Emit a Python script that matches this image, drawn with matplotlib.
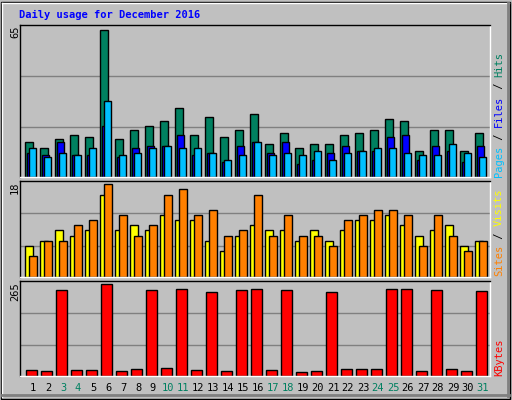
import matplotlib
matplotlib.use('Agg')
from matplotlib import pyplot as plt
from matplotlib.patches import Rectangle
from matplotlib.lines import Line2D

days = list(range(1, 32))
weekend_days = [3, 4, 10, 11, 17, 18, 24, 25, 31]

hits = [15.2, 12.5, 16.5, 18.3, 17.4, 65, 16.5, 20.5, 22.2, 24.4, 30.2, 18.3, 26.2, 17.4, 20.5, 27.5,
        14.3, 19.1, 12.5, 14.3, 14.3, 18.3, 19.1, 20.5, 25.3, 24.4, 11.2, 20.5, 20.5, 11.2, 19.1]
files = [10.3, 9.4, 15.2, 9.4, 9.4, 22.2, 8.5, 12.5, 13.4, 13.4, 18.3, 9.4, 10.3, 6.3, 13.4, 15.2,
         10.3, 15.2, 5.4, 7.2, 10.3, 13.4, 11.2, 11.2, 17.4, 18.3, 7.2, 13.4, 11.2, 6.3, 13.4]
pages = [12.5, 8.5, 10.3, 9.4, 12.5, 33.3, 9.4, 10.3, 12.5, 13.4, 12.5, 12.5, 10.3, 7.2, 9.4, 15.2,
         9.4, 10.3, 9.4, 11.2, 7.2, 10.3, 11.2, 12.5, 12.5, 10.3, 9.4, 9.4, 14.3, 10.3, 8.5]
sites = [6, 7, 9, 8, 9, 16, 9, 10, 9, 12, 11, 11, 7, 5, 8, 10, 9, 9, 7, 9, 7, 9, 11, 11, 12, 10, 8, 9, 10, 6, 7]
visits = [4, 7, 7, 10, 11, 18, 12, 8, 10, 16, 17, 12, 13, 8, 9, 16, 8, 12, 8, 8, 6, 11, 12, 13, 13, 12, 6, 12, 8, 5, 7]
kbytes = [15.5, 12.6, 247.6, 15.5, 15.5, 265, 12.6, 18.4, 247.6, 21.3, 250.5, 15.5, 241.8, 12.6, 247.6, 250.5,
          15.5, 247.6, 9.7, 12.6, 241.8, 18.4, 18.4, 18.4, 250.5, 250.5, 12.6, 247.6, 18.4, 12.6, 244.7]

BG = '#c0c0c0'
W, H = 512, 400
fig = plt.figure(figsize=(5.12, 4.0), dpi=100)
fig.set_facecolor(BG)
mono = 'DejaVu Sans Mono'


def px_axes(x0, y0, x1, y1):
    return fig.add_axes([x0 / W, 1 - y1 / H, (x1 - x0) / W, (y1 - y0) / H])


def setup(ax, top):
    ax.set_facecolor(BG)
    ax.set_xlim(-1 / 3, 31)
    ax.set_ylim(0, top)
    ax.set_xticks([])
    ax.set_yticks([])
    for side in ax.spines.values():
        side.set_linewidth(1)
    ax.spines['top'].set_color('black')
    ax.spines['left'].set_color('black')
    ax.spines['bottom'].set_color('white')
    ax.spines['right'].set_color('white')


def grid(ax, vmax):
    for f in (0.335, 0.685):
        ax.axhline(vmax * f, color='#808080', lw=1, zorder=0)


x0 = [d - 1 for d in days]
bar_kw = dict(align='edge', edgecolor='black', linewidth=1, zorder=2)

ax1 = px_axes(20, 25, 490, 176.7)
setup(ax1, 67)
grid(ax1, 65)
ax1.bar([x + 0.02 for x in x0], hits, width=0.53, color='#008060', **bar_kw)
ax1.bar([x + 0.13 for x in x0], files, width=0.47, color='#0000ff', **bar_kw)
ax1.bar([x + 0.29 for x in x0], pages, width=0.47, color='#00c0ff', **bar_kw)

ax2 = px_axes(20, 180.7, 490, 276.7)
setup(ax2, 18.7)
grid(ax2, 18)
ax2.bar([x + 0.02 for x in x0], sites, width=0.53, color='#ffff00', **bar_kw)
ax2.bar([x + 0.29 for x in x0], visits, width=0.53, color='#ff8000', **bar_kw)

ax3 = px_axes(20, 280.7, 490, 375.7)
setup(ax3, 275.4)
grid(ax3, 265)
ax3.bar([x + 0.09 for x in x0], kbytes, width=0.69, color='#ff0000', **bar_kw)

# outer bevel
fig.add_artist(Rectangle((1 / W, 1 / H), 1 - 3 / W, 1 - 3 / H, transform=fig.transFigure,
                         fill=False, edgecolor='black', lw=1))
fig.add_artist(Line2D([2 / W, 2 / W], [3 / H, 1 - 3 / H], transform=fig.transFigure, color='white', lw=1))
fig.add_artist(Line2D([2 / W, 1 - 3 / W], [1 - 3 / H, 1 - 3 / H], transform=fig.transFigure, color='white', lw=1))
fig.add_artist(Line2D([1 - 4 / W, 1 - 4 / W], [4 / H, 1 - 3 / H], transform=fig.transFigure, color='#808080', lw=2))
fig.add_artist(Line2D([2 / W, 1 - 3 / W], [5 / H, 5 / H], transform=fig.transFigure, color='#808080', lw=2))

fig.text(19 / W, 1 - 15 / H, 'Daily usage for December 2016', color='#0000ff', fontsize=7.5,
         fontweight='bold', family=mono, va='center')

for label, ytop in (('65', 26), ('18', 181), ('265', 282)):
    fig.text(15 / W, 1 - ytop / H, label, rotation=90, fontsize=7.5, family=mono,
             ha='center', va='top')


def side_label(parts, ybottom):
    cw = 0.602 * 7.5 * 100 / 72
    y = ybottom
    for text, color in parts:
        fig.text(499 / W, 1 - y / H, text, rotation=90, fontsize=7.5, family=mono, color=color,
                 ha='center', va='bottom')
        y -= cw * len(text)


side_label([('Pages', '#00c0ff'), (' / ', 'black'), ('Files', '#0000ff'), (' / ', 'black'),
            ('Hits', '#008060')], 177)
side_label([('Sites', '#ff8000'), (' / ', 'black'), ('Visits', '#ffff00')], 276)
side_label([('KBytes', '#ff0000')], 376)

for d in days:
    color = '#008060' if d in weekend_days else 'black'
    fig.text((20 + 5 + 15 * (d - 1) + 8) / W, 1 - 388 / H, str(d), color=color, fontsize=7.5,
             family=mono, ha='center', va='center')

fig.savefig('out.png', dpi=100, facecolor=BG)
